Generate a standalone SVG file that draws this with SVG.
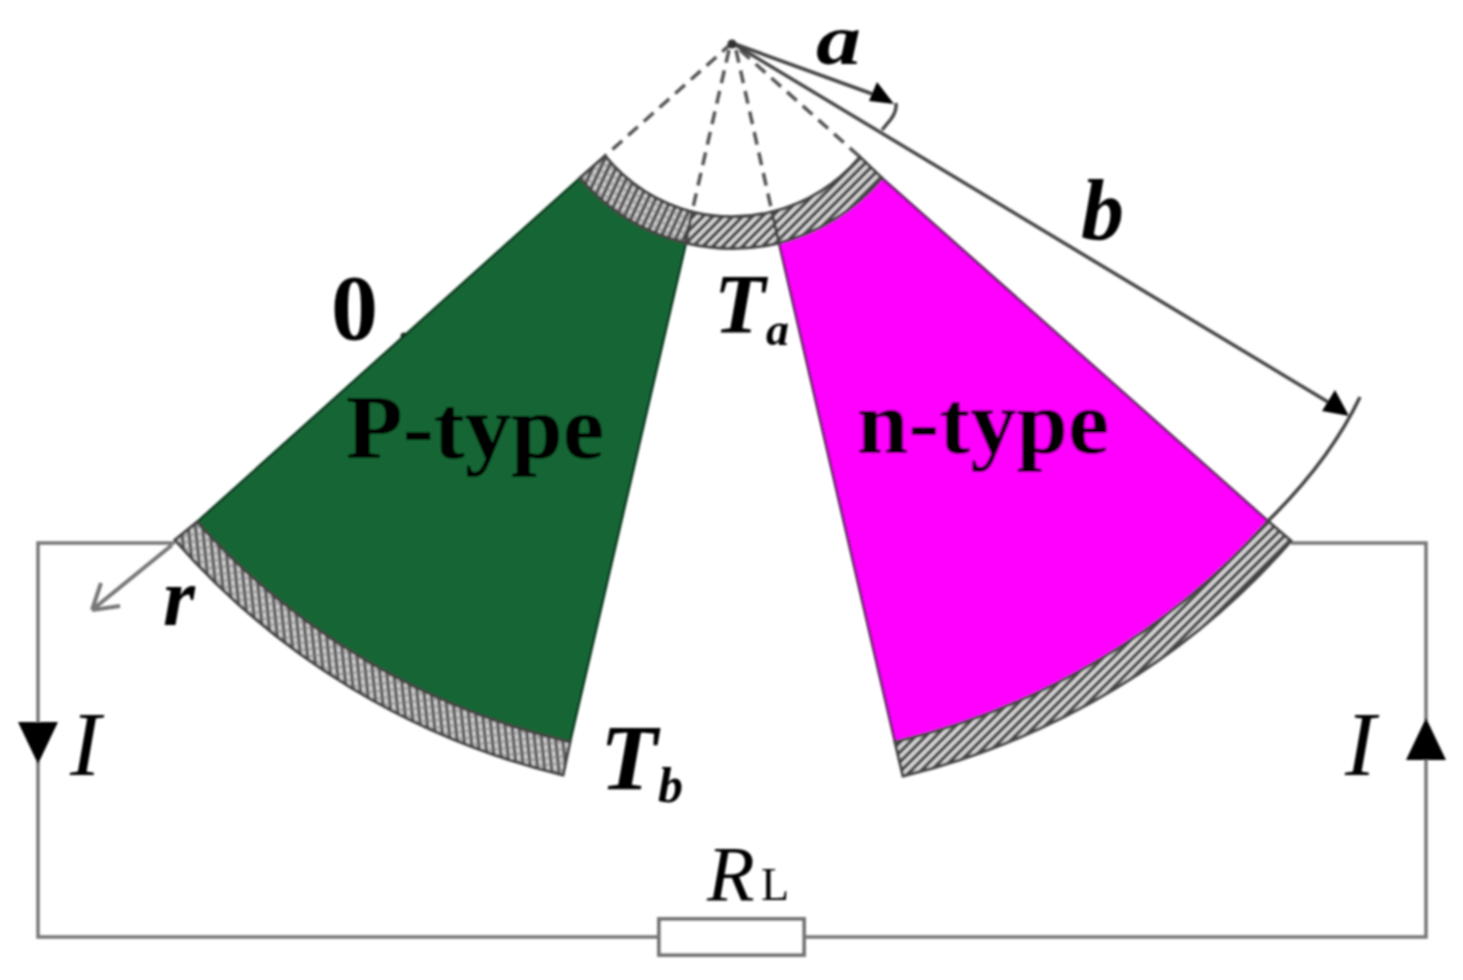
<svg xmlns="http://www.w3.org/2000/svg" width="1463" height="980" viewBox="0 0 1463 980">
<style>
text{font-family:"Liberation Serif","Times New Roman",serif;fill:#000}
.b{font-weight:bold}.i{font-style:italic}
.wire{fill:none;stroke:#777;stroke-width:3.5}
.thin{fill:none;stroke:#444;stroke-width:3.5}
.dash{fill:none;stroke:#555;stroke-width:3.5;stroke-dasharray:13 8}
.band{stroke:#444;stroke-width:3}
</style>
<defs>
<pattern id="hl" width="7" height="7" patternUnits="userSpaceOnUse" patternTransform="rotate(-6)">
<rect width="7" height="7" fill="#555"/><rect x="1" y="0" width="3.6" height="7" fill="#d2d2d2"/><rect x="0" y="5.4" width="7" height="1" fill="#777"/>
</pattern>
<pattern id="ht" width="7" height="7" patternUnits="userSpaceOnUse" patternTransform="rotate(25)">
<rect width="7" height="7" fill="#444"/><rect x="1" y="0" width="3.6" height="7" fill="#d2d2d2"/><rect x="0" y="5.4" width="7" height="1" fill="#777"/>
</pattern>
<pattern id="hr" width="7" height="7" patternUnits="userSpaceOnUse" patternTransform="rotate(45)">
<rect width="7" height="7" fill="#444"/><rect x="1" y="0" width="3.4" height="7" fill="#dcdcdc"/>
</pattern>
<filter id="soft" x="-5%" y="-5%" width="110%" height="110%"><feGaussianBlur stdDeviation="0.8"/></filter>
</defs>
<rect width="1463" height="980" fill="#fff"/>
<g filter="url(#soft)">
<g id="connectors">
<path class="wire" d="M175 543H38V937H659"/>
<path class="wire" d="M804 937H1426V543H1291"/>
<path class="dash" d="M732 43L605 156"/>
<path class="dash" d="M729 50L692 212"/>
<path class="dash" d="M736 50L772 212"/>
<path class="dash" d="M740 50L860 157"/>
<path class="thin" d="M732 43L1338 408"/>
<path class="thin" d="M732 43L878 96"/>
<path class="thin" d="M882 130L891 119Q897 111 896 103"/>
<path class="thin" d="M1268 521Q1330 460 1360 397"/>
<path d="M172 545L92 610M92 610L101 583M92 610L120 606" fill="none" stroke="#777" stroke-width="4"/>
<polygon points="869,101 894,104 877,82" fill="#000"/>
<polygon points="1322,411 1349,416 1335,390" fill="#000"/>
<polygon points="18,722 58,722 38,764" fill="#000"/>
<polygon points="1406,760 1446,760 1426,718" fill="#000"/>
<circle cx="732" cy="44" r="4.5" fill="#333"/>
<circle cx="404" cy="336" r="3.5" fill="#222"/>
</g>
<g id="p-type">
<path d="M580 178A204 204 0 0 0 686 243L570 742A718 718 0 0 1 197 522Z" fill="#156635" stroke="#0b3b20" stroke-width="2.5"/>
<text class="b" x="346" y="458" font-size="90" textLength="258" lengthAdjust="spacingAndGlyphs">P-type</text>
</g>
<g id="n-type">
<path d="M882 178A204 204 0 0 1 779 243L895 742A718 718 0 0 0 1268 521Z" fill="#ff00ff" stroke="#5c1a5c" stroke-width="2.5"/>
<text class="b" x="857" y="453" font-size="90" textLength="252" lengthAdjust="spacingAndGlyphs">n-type</text>
</g>
<g id="hot-contact">
<path class="band" fill="url(#ht)" d="M605 156A170 170 0 0 0 692 212L686 243A204 204 0 0 1 580 178Z"/>
<path class="band" fill="url(#hr)" d="M692 212A170 170 0 0 0 772 212L779 243A204 204 0 0 1 686 243Z"/>
<path class="band" fill="url(#hr)" d="M772 212A170 170 0 0 0 860 157L882 178A204 204 0 0 1 779 243Z"/>
</g>
<g id="cold-contact-p">
<path class="band" fill="url(#hl)" d="M197 522A718 718 0 0 0 570 742L563 775A750 750 0 0 1 175 540Z"/>
</g>
<g id="cold-contact-n">
<path class="band" fill="url(#hr)" d="M1268 521A718 718 0 0 1 895 742L903 776A750 750 0 0 0 1291 541Z"/>
</g>
<g id="resistor">
<rect x="659" y="919" width="145" height="36" fill="#fff" stroke="#777" stroke-width="4"/>
<text class="i" x="707" y="900" font-size="78">R<tspan x="761" font-size="46" font-style="normal">L</tspan></text>
</g>
<g id="labels">
<text class="b i" x="816" y="64" font-size="72" textLength="45" lengthAdjust="spacingAndGlyphs">a</text>
<text class="b i" x="1081" y="239" font-size="86">b</text>
<text class="b" x="331" y="339" font-size="94">0</text>
<text class="b i" x="714" y="333" font-size="84">T<tspan x="766" dy="12" font-size="46">a</tspan></text>
<text class="b i" x="600" y="789" font-size="94">T<tspan x="658" dy="13" font-size="50">b</tspan></text>
<text class="b i" x="163" y="625" font-size="82">r</text>
<text class="i" x="70" y="775" font-size="92">I</text>
<text class="i" x="1345" y="775" font-size="92">I</text>
</g>
</g>
</svg>
